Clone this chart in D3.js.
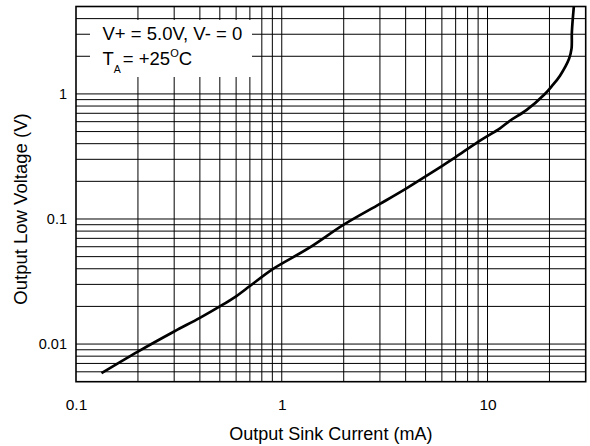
<!DOCTYPE html>
<html>
<head>
  <meta charset="utf-8">
  <style>
    body { margin: 0; background: #fff; }
    svg text { font-family: "Liberation Sans", Arial, sans-serif; fill: #000; }
  </style>
</head>
<body>
  <svg id="svg"></svg>
</body>
<script src="https://d3js.org/d3.v7.min.js"></script>
<script>
  var width = 590,
    height = 446;

  // output sink current (mA) and output low voltage (V)
  var current = [0.133, 0.2, 0.3, 0.4, 0.5, 0.6, 0.7, 0.9, 1.37, 2.0, 3.0, 4.0, 5.0, 6.0, 7.0, 9.0,
    11.5, 12.85, 15.5, 19.0, 20.5, 22.5, 24.9, 25.6, 25.7, 26.3];
  var voltage = [0.00585, 0.0087, 0.0126, 0.0162, 0.020, 0.0241, 0.0291, 0.0396, 0.0592, 0.090, 0.132,
    0.174, 0.219, 0.265, 0.313, 0.414, 0.531, 0.61, 0.745, 1.0, 1.15, 1.40, 1.91, 2.30, 3.13, 5.1];

  var xTicks = [0.1, 1, 10];
  var yTicks = [0.01, 0.1, 1];
  var xGrid = [0.2, 0.3, 0.4, 0.5, 0.6, 0.7, 0.8, 0.9, 1, 2, 3, 4, 5, 6, 7, 8, 9, 10, 20];
  var yGrid = [0.006, 0.007, 0.008, 0.009, 0.01, 0.02, 0.03, 0.04, 0.05, 0.06, 0.07, 0.08, 0.09,
    0.1, 0.2, 0.3, 0.4, 0.5, 0.6, 0.7, 0.8, 0.9, 1, 2, 3, 4];

  var pLeft = 76, pRight = 585.7, pTop = 6.5, pBottom = 381.7;

  var svg = d3.select("#svg").attr("width", width).attr("height", height);

  var x = d3.scaleLog().domain([0.1, 30]).range([pLeft, pRight]);
  var y = d3.scaleLog().domain([0.005, 5]).range([pBottom, pTop]);

  svg.append("defs").append("clipPath").attr("id", "plot")
    .append("rect")
    .attr("x", pLeft).attr("y", pTop)
    .attr("width", pRight - pLeft).attr("height", pBottom - pTop);

  //GRID
  var grid = svg.append("g").attr("stroke", "#000").attr("stroke-width", 1);

  grid.selectAll(".vx")
    .data(xGrid)
    .enter()
    .append("line")
    .attr("x1", function (d) { return x(d); })
    .attr("x2", function (d) { return x(d); })
    .attr("y1", pTop)
    .attr("y2", pBottom);

  grid.selectAll(".hy")
    .data(yGrid)
    .enter()
    .append("line")
    .attr("y1", function (d) { return y(d); })
    .attr("y2", function (d) { return y(d); })
    .attr("x1", pLeft)
    .attr("x2", pRight);

  //LEGEND BOX (covers the grid)
  svg.append("rect")
    .attr("x", 90).attr("y", 20)
    .attr("width", 162).attr("height", 57)
    .attr("fill", "#fff");

  svg.append("text")
    .attr("x", 102.5).attr("y", 40)
    .attr("font-size", 18.5)
    .text("V+ = 5.0V, V- = 0");

  var t2 = svg.append("text")
    .attr("x", 102.5).attr("y", 65)
    .attr("font-size", 18.5);
  t2.append("tspan").text("T");
  t2.append("tspan").attr("font-size", 10.5).attr("dy", 8).text("A");
  t2.append("tspan").attr("dy", -8).attr("dx", 2).text("= +25");
  t2.append("tspan").attr("font-size", 11).attr("dy", -8).text("O");
  t2.append("tspan").attr("dy", 8).text("C");

  //CURVE
  var pts = current.map(function (c, i) { return [c, voltage[i]]; });

  var line = d3.line()
    .x(function (d) { return x(d[0]); })
    .y(function (d) { return y(d[1]); })
    .curve(d3.curveCatmullRom.alpha(0.5));

  svg.append("path")
    .datum(pts)
    .attr("clip-path", "url(#plot)")
    .attr("d", line)
    .attr("fill", "none")
    .attr("stroke", "#000")
    .attr("stroke-width", 2.7)
    .attr("stroke-linejoin", "round");

  //FRAME
  svg.append("rect")
    .attr("x", pLeft).attr("y", pTop)
    .attr("width", pRight - pLeft).attr("height", pBottom - pTop)
    .attr("fill", "none")
    .attr("stroke", "#000")
    .attr("stroke-width", 1.6);

  //AXES (labels only)
  var xAxis = d3.axisBottom(x)
    .tickValues(xTicks)
    .tickFormat(d3.format("~g"))
    .tickSize(0)
    .tickPadding(17);

  svg.append("g")
    .attr("transform", "translate(0," + pBottom + ")")
    .call(xAxis)
    .call(function (g) {
      g.select(".domain").remove();
      g.selectAll("text").attr("font-size", 15.5).attr("font-family", null);
    });

  var yAxis = d3.axisLeft(y)
    .tickValues(yTicks)
    .tickFormat(d3.format("~g"))
    .tickSize(0)
    .tickPadding(9);

  svg.append("g")
    .attr("transform", "translate(" + pLeft + ",0)")
    .call(yAxis)
    .call(function (g) {
      g.select(".domain").remove();
      g.selectAll("text").attr("font-size", 14.5).attr("font-family", null);
    });

  svg.append("text")
    .attr("x", (pLeft + pRight) / 2)
    .attr("y", 440)
    .attr("text-anchor", "middle")
    .attr("font-size", 18)
    .text("Output Sink Current (mA)");

  svg.append("text")
    .attr("transform", "translate(27,209) rotate(-90)")
    .attr("text-anchor", "middle")
    .attr("font-size", 18.5)
    .text("Output Low Voltage (V)");
</script>
</html>
